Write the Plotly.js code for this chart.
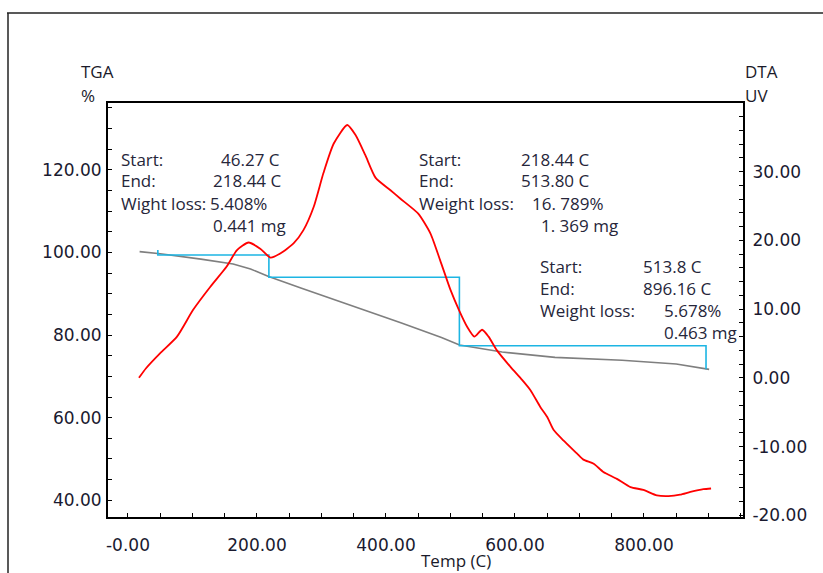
<!DOCTYPE html>
<html>
<head>
<meta charset="utf-8">
<script src="https://cdn.plot.ly/plotly-3.0.1.min.js"></script>
<style>html,body{margin:0;padding:0;background:#fff;overflow:hidden;}#chart{width:823px;height:573px;}</style>
</head>
<body>
<div id="chart"></div>
<script>
// ---- data ----
var tgaTemp = [18, 50, 113, 163, 190, 218, 268, 331, 362, 424, 486, 514, 580, 662, 766, 850, 901];
var tgaVal  = [100.2, 99.7, 98.4, 97.2, 96.0, 94.2, 91.4, 88.0, 86.3, 82.9, 79.4, 77.6, 75.9, 74.6, 73.9, 73.0, 71.7];

var dtaTemp = [17, 28, 50, 76, 101, 128, 153, 169, 187, 205, 221, 236, 257, 272, 288, 303, 319, 340, 353, 368, 384, 407, 422, 450, 469, 484, 500, 513, 526, 537, 549, 559, 572, 593, 611, 624, 639, 650, 660, 675, 696, 706, 722, 737, 758, 779, 799, 820, 838, 856, 872, 892, 904];
var dtaVal  = [0.0, 1.4, 3.6, 6.0, 9.9, 13.3, 16.2, 18.6, 19.7, 18.8, 17.5, 18.1, 19.6, 21.5, 24.9, 29.8, 34.1, 36.8, 35.3, 32.4, 29.1, 27.3, 26.1, 23.9, 21.0, 17.1, 12.8, 9.9, 7.4, 6.0, 7.0, 6.0, 4.0, 1.6, -0.3, -1.8, -4.2, -5.7, -7.6, -9.1, -11.0, -11.9, -12.5, -13.7, -14.7, -15.9, -16.3, -17.1, -17.2, -17.0, -16.6, -16.2, -16.1];

var stepTemp = [46.27, 46.27, 218.44, 218.44, 513.8, 513.8, 896.16, 896.16];
var stepVal  = [100.6, 99.4, 99.4, 94.0, 94.0, 77.4, 77.4, 71.7];

var xTickVals = [0, 200, 400, 600, 800];
var xTickText = ['-0.00', '200.00', '400.00', '600.00', '800.00'];
var yTickVals = [40, 60, 80, 100, 120];
var yTickText = ['40.00', '60.00', '80.00', '100.00', '120.00'];
var y2TickVals = [-20, -10, 0, 10, 20, 30];
var y2TickText = ['-20.00', '-10.00', '0.00', '10.00', '20.00', '30.00'];

var block1Labels = ['Start:', 'End:', 'Wight loss:'];
var block1Values = ['46.27 C', '218.44 C', '5.408%', '0.441 mg'];
var block2Labels = ['Start:', 'End:', 'Weight loss:'];
var block2Values = ['218.44 C', '513.80 C', '16. 789%', '1. 369 mg'];
var block3Labels = ['Start:', 'End:', 'Weight loss:'];
var block3Values = ['513.8 C', '896.16 C', '5.678%', '0.463 mg'];

// ---- layout helpers ----
var W = 823, H = 573, ML = 108, MR = 80, MT = 103, MB = 56;
var PW = W - ML - MR, PH = H - MT - MB;
function px(x) { return (x - ML) / PW; }
function py(y) { return (H - MB - y) / PH; }

var annFont = {family: 'Open Sans, sans-serif', size: 17, color: '#26263a'};
var anns = [];
function txt(t, x, y, anchor, font) {
  anns.push({text: t, xref: 'paper', yref: 'paper', x: px(x), y: py(y),
    xanchor: anchor || 'left', yanchor: 'middle', showarrow: false,
    font: font || annFont});
}
// block 1
var r1 = [159, 181, 203, 225];
txt(block1Labels[0], 119, r1[0]); txt(block1Labels[1], 119, r1[1]); txt(block1Labels[2], 119, r1[2]);
txt(block1Values[0], 282, r1[0], 'right'); txt(block1Values[1], 211, r1[1]);
txt(block1Values[2], 208, r1[2]); txt(block1Values[3], 211, r1[3]);
// block 2
txt(block2Labels[0], 417, r1[0]); txt(block2Labels[1], 417, r1[1]); txt(block2Labels[2], 417, r1[2]);
txt(block2Values[0], 519, r1[0]); txt(block2Values[1], 519, r1[1]);
txt(block2Values[2], 530, r1[2]); txt(block2Values[3], 539, r1[3]);
// block 3
var r3 = [266, 288, 310, 332];
txt(block3Labels[0], 538, r3[0]); txt(block3Labels[1], 538, r3[1]); txt(block3Labels[2], 538, r3[2]);
txt(block3Values[0], 641, r3[0]); txt(block3Values[1], 641, r3[1]);
txt(block3Values[2], 662, r3[2]); txt(block3Values[3], 662, r3[3]);
// axis titles
var titleFont = {family: 'Open Sans, sans-serif', size: 17, color: '#1a1a2a'};
txt('TGA', 79, 72, 'left', titleFont);
txt('%', 79, 96, 'left', titleFont);
txt('DTA', 743, 72, 'left', titleFont);
txt('UV', 743, 96, 'left', titleFont);
txt('Temp (C)', 456, 560, 'center', titleFont);

var tickFont = {family: 'DejaVu Sans, sans-serif', size: 17, color: '#1a1a30'};

var traces = [
  {x: tgaTemp, y: tgaVal, type: 'scatter', mode: 'lines', line: {color: '#7f7f7f', width: 1.6}, hoverinfo: 'skip'},
  {x: stepTemp, y: stepVal, type: 'scatter', mode: 'lines', line: {color: '#1db5e3', width: 1.6}, hoverinfo: 'skip'},
  {x: dtaTemp, y: dtaVal, type: 'scatter', mode: 'lines', yaxis: 'y2', line: {color: '#ff0000', width: 1.8, shape: 'spline', smoothing: 0.6}, hoverinfo: 'skip'}
];

var layout = {
  width: W, height: H,
  margin: {l: ML, r: MR, t: MT, b: MB},
  paper_bgcolor: '#ffffff', plot_bgcolor: '#ffffff',
  showlegend: false,
  xaxis: {range: [-31, 953.5], tickvals: xTickVals, ticktext: xTickText, ticks: 'inside', ticklen: 4,
    tickcolor: '#000', linecolor: '#000', linewidth: 2, showline: true, mirror: true, showgrid: false, zeroline: false,
    tickfont: tickFont, ticklabelstandoff: 12,
    minor: {dtick: 50, tick0: 0, ticks: 'inside', ticklen: 4, tickcolor: '#000', showgrid: false}},
  yaxis: {range: [35.95, 136.2], tickvals: yTickVals, ticktext: yTickText, ticks: 'inside', ticklen: 4,
    tickcolor: '#000', linecolor: '#000', linewidth: 2, showline: true, showgrid: false, zeroline: false,
    tickfont: tickFont, ticklabelstandoff: 1,
    minor: {dtick: 5, tick0: 0, ticks: 'inside', ticklen: 4, tickcolor: '#000', showgrid: false}},
  yaxis2: {range: [-20.25, 40], overlaying: 'y', side: 'right', tickvals: y2TickVals, ticktext: y2TickText,
    ticks: 'inside', ticklen: 4, tickcolor: '#000', linecolor: '#000', linewidth: 2, showline: true,
    showgrid: false, zeroline: false, tickfont: tickFont, ticklabelstandoff: 4,
    minor: {dtick: 2, tick0: 0, ticks: 'inside', ticklen: 4, tickcolor: '#000', showgrid: false}},
  annotations: anns,
  shapes: [
    {type: 'line', xref: 'paper', yref: 'paper', x0: px(7), x1: px(823), y0: py(13), y1: py(13), line: {color: '#222', width: 1.5}},
    {type: 'line', xref: 'paper', yref: 'paper', x0: px(8), x1: px(8), y0: py(13), y1: py(573), line: {color: '#222', width: 1.5}}
  ]
};

Plotly.newPlot('chart', traces, layout, {staticPlot: true, displayModeBar: false});
</script>
</body>
</html>
